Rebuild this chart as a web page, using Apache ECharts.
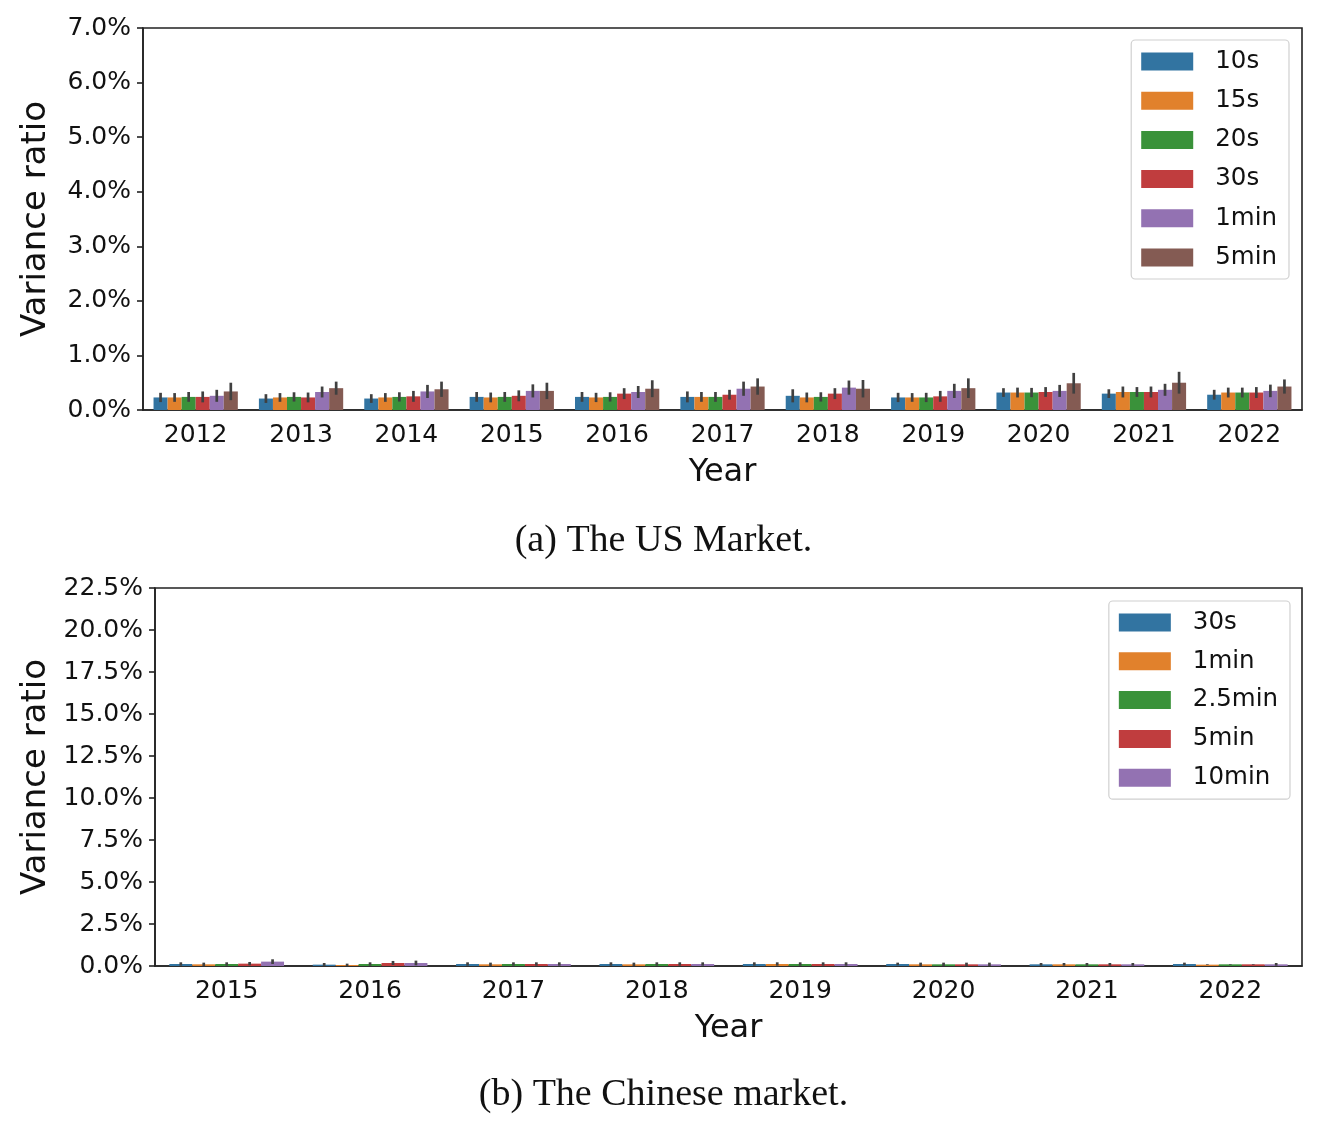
<!DOCTYPE html>
<html>
<head>
<meta charset="utf-8">
<script src="https://cdn.jsdelivr.net/npm/echarts@6/dist/echarts.min.js"></script>
<style>
  html, body { margin: 0; padding: 0; background: #fff; }
  #c1 { position: absolute; left: 0; top: 0; width: 1327px; height: 560px; }
  #c2 { position: absolute; left: 0; top: 560px; width: 1327px; height: 567px; }
</style>
</head>
<body>
<div id="c1"></div>
<div id="c2"></div>
<script>
// ---------- US market data (variance ratio, %) ----------
const usYears = ['2012','2013','2014','2015','2016','2017','2018','2019','2020','2021','2022'];
const usNames = ['10s','15s','20s','30s','1min','5min'];
const us10s  = [0.23,0.21,0.21,0.24,0.24,0.24,0.26,0.23,0.32,0.30,0.28];
const us15s  = [0.23,0.23,0.23,0.23,0.23,0.24,0.23,0.23,0.32,0.33,0.32];
const us20s  = [0.24,0.24,0.24,0.24,0.24,0.24,0.24,0.23,0.32,0.33,0.32];
const us30s  = [0.24,0.23,0.25,0.26,0.30,0.28,0.30,0.25,0.33,0.33,0.32];
const us1min = [0.26,0.33,0.34,0.35,0.33,0.39,0.41,0.35,0.35,0.37,0.35];
const us5min = [0.34,0.40,0.38,0.35,0.39,0.43,0.39,0.40,0.49,0.50,0.43];
// error-bar half widths
const usErr10s  = [0.085,0.08,0.08,0.09,0.09,0.10,0.12,0.085,0.08,0.08,0.09];
const usErr15s  = [0.08,0.08,0.08,0.09,0.085,0.09,0.09,0.08,0.09,0.10,0.09];
const usErr20s  = [0.09,0.085,0.085,0.09,0.085,0.09,0.085,0.085,0.085,0.09,0.09];
const usErr30s  = [0.10,0.09,0.10,0.10,0.10,0.09,0.10,0.10,0.09,0.10,0.10];
const usErr1min = [0.11,0.10,0.12,0.12,0.11,0.13,0.13,0.13,0.11,0.11,0.115];
const usErr5min = [0.16,0.12,0.14,0.15,0.155,0.15,0.16,0.18,0.19,0.20,0.13];
const usTicks = [0,1,2,3,4,5,6,7];

// ---------- Chinese market data (variance ratio, %) ----------
const cnYears = ['2015','2016','2017','2018','2019','2020','2021','2022'];
const cnNames = ['30s','1min','2.5min','5min','10min'];
const cn30s   = [0.12,0.08,0.12,0.12,0.12,0.12,0.10,0.12];
const cn1min  = [0.10,0.06,0.10,0.10,0.12,0.10,0.10,0.08];
const cn25min = [0.12,0.12,0.12,0.12,0.12,0.10,0.10,0.10];
const cn5min  = [0.14,0.18,0.12,0.12,0.12,0.10,0.10,0.10];
const cn10min = [0.26,0.18,0.12,0.12,0.12,0.10,0.10,0.10];
const cnErr30s   = [0.10,0.10,0.10,0.10,0.10,0.08,0.08,0.08];
const cnErr1min  = [0.10,0.08,0.10,0.10,0.10,0.10,0.08,0.02];
const cnErr25min = [0.10,0.10,0.10,0.10,0.10,0.10,0.08,0.02];
const cnErr5min  = [0.10,0.12,0.10,0.10,0.10,0.10,0.08,0.02];
const cnErr10min = [0.14,0.14,0.10,0.10,0.10,0.10,0.08,0.08];
const cnTicks = [0,2.5,5,7.5,10,12.5,15,17.5,20,22.5];

const palette6 = ['#3274a1','#e1812c','#3a923a','#c03d3e','#9372b2','#845b53'];

function buildOption(cfg) {
  const n = cfg.values.length;
  const series = [];
  cfg.values.forEach((vals, k) => {
    series.push({
      type: 'bar', name: cfg.names[k], data: vals,
      itemStyle: { color: palette6[k] },
      barGap: '0%', barCategoryGap: '20%',
      emphasis: { disabled: true }, z: 2
    });
  });
  cfg.values.forEach((vals, k) => {
    const errs = cfg.errs[k];
    series.push({
      type: 'custom', name: '_err' + k, z: 5, silent: true,
      encode: { x: 0, y: [1, 2] },
      data: vals.map((v, i) => [i, Math.max(0, v - errs[i]), v + errs[i]]),
      renderItem: function (params, api) {
        const ci = api.value(0);
        const band = api.size([1, 0])[0];
        const bw = band * 0.8 / n;
        const cx = api.coord([ci, 0])[0] + (k - (n - 1) / 2) * bw;
        const y1 = api.coord([ci, api.value(1)])[1];
        const y2 = api.coord([ci, api.value(2)])[1];
        return { type: 'line', shape: { x1: cx, y1: y1, x2: cx, y2: y2 },
                 style: { stroke: '#404040', lineWidth: 2.7 } };
      }
    });
  });
  const ticks = cfg.ticks;
  return {
    animation: false,
    backgroundColor: '#fff',
    textStyle: { fontFamily: 'DejaVu Sans' },
    grid: { left: cfg.grid.left, right: 25, top: 28, bottom: cfg.grid.bottom,
            show: true, borderColor: '#222', borderWidth: 1.6, backgroundColor: 'transparent' },
    legend: {
      data: cfg.names, orient: 'vertical', right: cfg.legend.right, top: cfg.legend.top,
      itemWidth: 52, itemHeight: 18, itemGap: cfg.legend.gap,
      icon: 'rect',
      padding: cfg.legend.padding,
      borderColor: '#d0d0d0', borderWidth: 1.2, borderRadius: 4,
      backgroundColor: '#fff',
      textStyle: { fontFamily: 'DejaVu Sans', fontSize: 24.5, color: '#111', lineHeight: 24,
                   padding: [0, 0, 0, cfg.legend.textPad] },
      selectedMode: false
    },
    xAxis: {
      type: 'category', data: cfg.cats,
      name: 'Year', nameLocation: 'middle', nameGap: 47,
      nameTextStyle: { fontFamily: 'DejaVu Sans', fontSize: 32, color: '#111' },
      axisLine: { lineStyle: { color: '#222', width: 1.6 } },
      axisTick: { alignWithLabel: true, length: 6, lineStyle: { color: '#222', width: 1.6 } },
      axisLabel: { fontFamily: 'DejaVu Sans', fontSize: 25, color: '#111', margin: 13 },
      splitLine: { show: false }
    },
    yAxis: {
      type: 'value', min: ticks[0], max: ticks[ticks.length - 1], interval: ticks[1] - ticks[0],
      name: 'Variance ratio', nameLocation: 'middle', nameGap: cfg.nameGap, nameRotate: 90,
      nameTextStyle: { fontFamily: 'DejaVu Sans', fontSize: 34, color: '#111' },
      axisLine: { show: true, lineStyle: { color: '#222', width: 1.6 } },
      axisTick: { show: true, length: 6, lineStyle: { color: '#222', width: 1.6 } },
      axisLabel: { fontFamily: 'DejaVu Sans', fontSize: 25, color: '#111', margin: 12,
                   formatter: v => v.toFixed(1) + '%' },
      splitLine: { show: false }
    },
    graphic: [{
      type: 'text', left: 'center', top: cfg.captionTop,
      style: { text: cfg.caption, font: '38px "Liberation Serif"', fill: '#111' }
    }],
    series: series
  };
}

const c1 = echarts.init(document.getElementById('c1'));
c1.setOption(buildOption({
  cats: usYears, names: usNames,
  values: [us10s, us15s, us20s, us30s, us1min, us5min],
  errs: [usErr10s, usErr15s, usErr20s, usErr30s, usErr1min, usErr5min],
  ticks: usTicks,
  grid: { left: 143, bottom: 150 },
  legend: { right: 38, top: 40, padding: [9, 12, 9, 10], textPad: 17, gap: 14.2 },
  nameGap: 90,
  caption: '(a) The US Market.', captionTop: 522
}));

const c2 = echarts.init(document.getElementById('c2'));
c2.setOption(buildOption({
  cats: cnYears, names: cnNames,
  values: [cn30s, cn1min, cn25min, cn5min, cn10min],
  errs: [cnErr30s, cnErr1min, cnErr25min, cnErr5min, cnErr10min],
  ticks: cnTicks,
  grid: { left: 155, bottom: 161 },
  legend: { right: 37, top: 41, padding: [9, 12, 9, 10], textPad: 17, gap: 13.8 },
  nameGap: 102,
  caption: '(b) The Chinese market.', captionTop: 516
}));
</script>
</body>
</html>
